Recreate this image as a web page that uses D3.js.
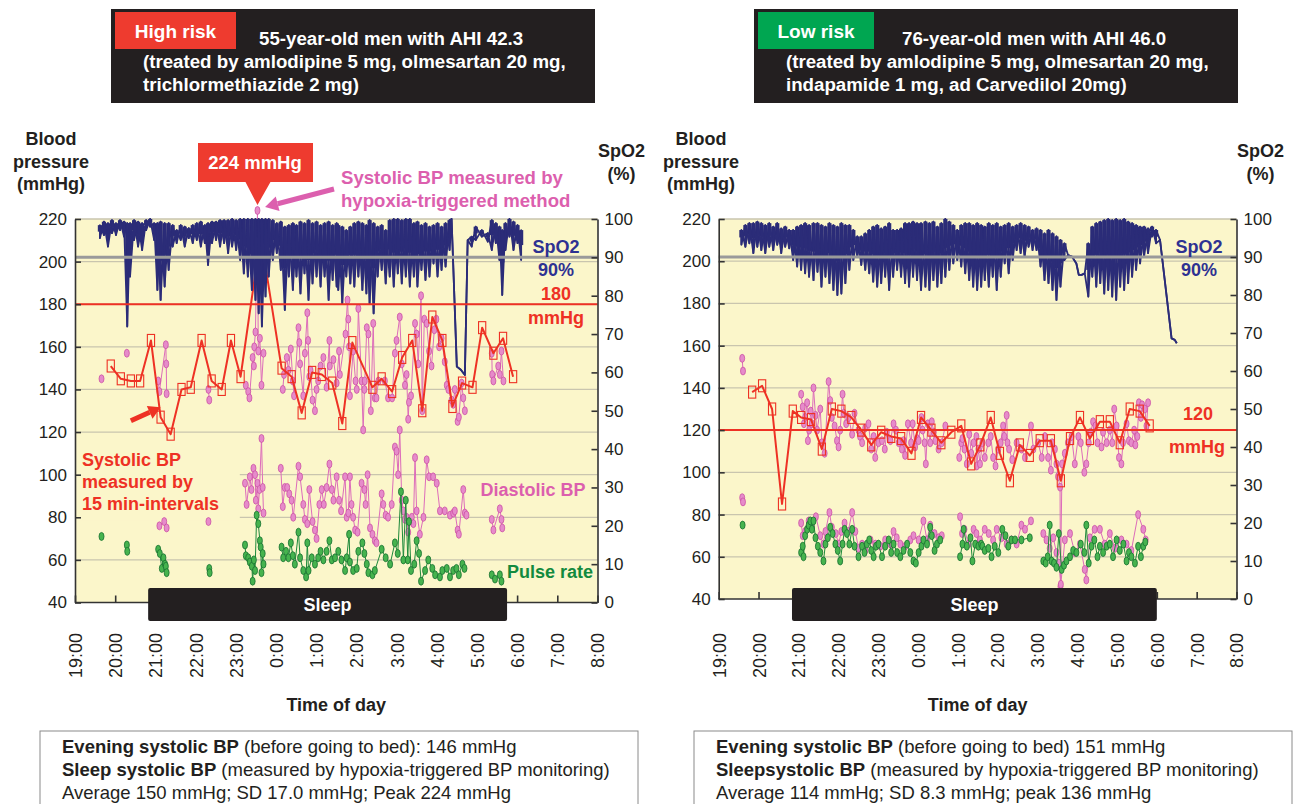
<!DOCTYPE html>
<html><head><meta charset="utf-8">
<script src="https://cdn.jsdelivr.net/npm/d3@7"></script>
<style>body{margin:0;background:#fff}svg{display:block}text{font-family:"Liberation Sans",Arial,Helvetica,sans-serif}</style>
</head><body><svg id="c" width="1297" height="804"></svg>
<script>
// ---------- shared axis data (time = hours after 19:00) ----------
const hourLabels = ["19:00","20:00","21:00","22:00","23:00","0:00","1:00","2:00","3:00","4:00","5:00","6:00","7:00","8:00"];
const bpTicks = [40,60,80,100,120,140,160,180,200,220];
const spo2Ticks = [0,10,20,30,40,50,60,70,80,90,100];

// ---------- LEFT (high risk) ----------
const L_sleep = [1.82, 10.75];
const L_threshold = 180;
const L_sys15 = [[0.89,151],[1.14,145],[1.39,144],[1.62,144],[1.89,163],[2.13,127],[2.38,119],[2.65,140],[2.88,141],[3.15,163],[3.40,144],[3.65,140],[3.88,163],[4.12,146],[4.62,212],[5.14,150],[5.39,146],[5.64,129],[5.90,148],[6.14,147],[6.40,143],[6.65,124],[6.90,162],[7.40,141],[7.63,145],[7.89,139],[8.14,155],[8.39,163],[8.64,130],[8.89,174],[9.14,163],[9.39,132],[9.63,143],[9.89,141],[10.13,169],[10.41,157],[10.65,164],[10.90,146]];
const L_hsys = [[0.66,145],[1.29,157],
[2.07,144],[2.10,139],[2.26,161],[2.27,152],[2.28,138],[3.32,140],[3.34,135],
[4.25,142],[4.31,139],[4.34,136],[4.42,155],[4.45,151],[4.46,160],[4.49,167],[4.54,224],[4.56,158],[4.60,164],[4.64,142],[4.69,157],
[5.17,140],[5.20,147],[5.27,155],[5.31,149],[5.37,159],[5.42,144],[5.45,137],[5.56,169],[5.58,162],[5.60,152],[5.68,137],[5.72,157],[5.78,176],[5.80,163],[5.83,146],[5.86,149],[5.91,135],[5.97,130],[6.01,140],[6.05,144],[6.11,151],[6.18,155],[6.26,141],[6.33,163],[6.34,151],[6.43,154],[6.51,143],
[6.57,158],[6.59,147],[6.73,166],[6.78,182],[6.80,173],[6.82,160],[6.84,137],[6.92,158],[6.98,144],[7.01,140],[7.05,178],[7.13,144],[7.17,121],[7.20,140],[7.21,144],[7.26,169],[7.30,166],[7.36,130],[7.42,171],[7.46,136],[7.50,136],[7.55,144],[7.71,144],[7.79,136],[7.89,136],[7.96,157],[8.00,163],[8.08,174],[8.13,152],[8.21,142],[8.25,147],[8.29,126],[8.31,134],[8.36,137],[8.46,171],[8.50,166],[8.54,152],[8.61,184],[8.64,130],[8.69,173],[8.75,171],[8.81,158],[8.87,151],[8.94,168],[8.99,173],[9.06,160],[9.12,164],[9.20,153],[9.25,142],[9.29,140],[9.37,135],[9.41,133],[9.45,140],[9.52,125],[9.55,127],[9.62,143],[9.66,136],[9.70,130],
[10.37,157],[10.38,147],[10.41,144],[10.53,151],[10.57,147],[10.61,158],[10.66,144]];
const L_dia = [[2.10,76],[2.22,78],[2.28,75],[3.32,78],
[4.23,96],[4.27,86],[4.35,99],[4.39,93],[4.44,103],[4.48,100],[4.50,88],[4.54,96],[4.56,84],[4.59,93],[4.64,117],[4.67,94],[4.69,82],
[5.12,103],[5.17,85],[5.22,94],[5.28,94],[5.33,91],[5.39,88],[5.43,80],[5.56,104],[5.60,99],[5.68,86],[5.72,79],[5.78,77],[5.83,93],[5.91,78],[5.97,74],[6.01,70],[6.08,86],[6.14,93],[6.19,86],[6.26,94],[6.33,105],[6.39,93],[6.43,88],[6.51,99],
[6.57,88],[6.62,83],[6.72,99],[6.76,80],[6.80,82],[6.84,99],[6.88,86],[6.92,80],[6.97,74],[7.03,73],[7.13,96],[7.20,93],[7.23,86],[7.28,100],[7.34,75],[7.40,72],[7.46,69],[7.50,68],[7.63,91],[7.67,86],[7.73,81],[7.79,80],[7.88,86],[7.96,113],[8.00,111],[8.04,100],[8.08,121],[8.13,88],[8.17,83],[8.21,79],[8.25,80],[8.29,73],[8.38,80],[8.42,77],[8.46,108],[8.50,83],[8.58,72],[8.67,80],[8.75,107],[8.81,99],[8.91,99],[9.00,96],[9.08,83],[9.20,83],[9.33,81],[9.41,82],[9.45,83],[9.52,74],[9.55,72],[9.66,93],[9.70,82],[9.74,81],
[10.37,79],[10.41,74],[10.57,84],[10.61,79],[10.63,75]];
const L_pulse = [[0.66,71],[1.29,67],[1.30,64],
[2.07,65],[2.11,63],[2.16,56],[2.20,61],[2.24,58],[2.26,57],[2.28,54],[3.34,56],[3.35,54],
[4.23,67],[4.25,62],[4.31,61],[4.35,59],[4.40,57],[4.42,50],[4.45,60],[4.48,55],[4.52,81],[4.56,77],[4.60,69],[4.62,66],[4.64,54],[4.67,63],[4.69,58],
[5.14,66],[5.18,61],[5.25,64],[5.31,61],[5.37,68],[5.42,62],[5.47,58],[5.56,73],[5.60,61],[5.68,55],[5.75,52],[5.78,68],[5.81,55],[5.89,61],[5.97,58],[6.05,61],[6.11,64],[6.18,60],[6.26,64],[6.33,69],[6.39,60],[6.47,61],[6.55,64],
[6.63,60],[6.72,55],[6.76,61],[6.82,72],[6.84,59],[6.92,55],[7.01,56],[7.05,64],[7.15,68],[7.20,63],[7.26,58],[7.30,54],[7.40,53],[7.46,55],[7.63,65],[7.73,61],[7.84,58],[7.96,68],[8.03,63],[8.11,92],[8.17,60],[8.23,88],[8.28,60],[8.31,78],[8.36,55],[8.44,58],[8.50,69],[8.56,63],[8.61,50],[8.71,55],[8.79,60],[8.89,56],[8.96,53],[9.08,52],[9.14,55],[9.25,56],[9.33,52],[9.41,55],[9.49,56],[9.55,53],[9.64,58],[9.69,56],
[10.37,53],[10.45,51],[10.57,53],[10.61,50]];
// SpO2 read as [time, upper, lower] of the trace
const L_spo2 = [[0.62,98.4,95.0],[0.72,99.3,95.8],[0.82,98.9,92.8],[0.92,99.7,96.3],[1.02,98.9,95.8],[1.12,99.7,97.1],[1.22,99.3,95.4],[1.30,98.9,72.0],[1.37,98.9,85.0],[1.47,99.7,94.5],[1.57,99.3,92.8],[1.67,98.9,91.9],[1.77,99.7,97.1],[1.87,100,98.0],[1.97,98.9,94.5],[2.05,98.9,81.5],[2.13,99.3,78.9],[2.23,98.9,82.4],[2.33,98.9,86.7],[2.43,98.4,92.8],[2.53,97.1,93.7],[2.63,98.4,94.5],[2.73,98.0,92.8],[2.83,97.6,95.0],[2.93,98.4,93.7],[3.03,98.9,94.5],[3.13,99.3,92.8],[3.23,98.4,93.7],[3.31,98.9,88.0],[3.41,99.3,93.7],[3.51,99.3,94.5],[3.61,99.7,92.8],[3.71,99.7,93.7],[3.81,99.7,91.1],[3.91,100,92.8],[4.01,99.7,91.9],[4.11,100,89.3],[4.20,100,85.8],[4.30,100,85.0],[4.40,100,81.5],[4.49,100,78.9],[4.57,100,75.4],[4.65,100,72.0],[4.74,100,79.8],[4.82,100,85.0],[4.92,99.7,89.3],[5.02,98.9,91.1],[5.12,99.3,86.7],[5.22,98.0,76.3],[5.32,98.4,85.0],[5.42,98.9,81.5],[5.51,98.4,85.0],[5.61,99.3,80.6],[5.71,98.9,85.8],[5.81,99.7,78.9],[5.91,98.9,83.2],[6.01,99.3,85.0],[6.11,98.4,82.4],[6.21,98.9,85.0],[6.31,99.3,78.9],[6.41,98.4,84.1],[6.51,98.9,82.4],
[6.55,98.4,81.5],[6.65,98.0,78.0],[6.75,97.1,85.0],[6.85,98.0,83.2],[6.95,98.9,82.4],[7.05,99.3,85.0],[7.15,98.9,81.5],[7.25,98.4,80.6],[7.33,99.7,78.0],[7.43,98.9,75.4],[7.53,98.0,85.0],[7.63,98.4,86.7],[7.73,97.1,83.2],[7.83,99.7,85.0],[7.93,100,82.4],[8.03,100,85.8],[8.13,99.7,83.2],[8.23,100,85.0],[8.33,100,82.4],[8.43,98.9,85.0],[8.52,99.3,82.4],[8.62,98.4,86.7],[8.72,98.9,84.1],[8.82,98.0,85.0],[8.92,98.4,88.4],[9.02,98.9,85.0],[9.12,98.0,86.7],[9.22,98.9,87.6],[9.32,99.7,91.9],[9.37,100,100],[9.50,61.5,61.5],[9.60,60.7,60.7],[9.70,59.3,59.3],[9.77,94.5,94.5],[9.87,95.4,92.8],[9.97,98.0,94.5],[10.12,97.1,95.4],[10.27,96.3,94.1],[10.37,99.7,91.9],[10.47,98.9,93.7],[10.56,98.0,89.3],[10.63,97.1,80.2],[10.71,98.9,91.9],[10.81,100,95.4],[10.91,99.3,91.9],[11.01,98.4,93.7],[11.10,97.1,89.3]];

// ---------- RIGHT (low risk) ----------
const R_sleep = [1.84, 11.0];
const R_threshold = 120;
const R_sys15 = [[0.84,138],[1.09,141],[1.34,130],[1.59,85],[1.86,129],[2.07,126],[2.32,125],[2.59,111],[2.84,130],[3.08,129],[3.33,126],[3.58,120],[3.83,113],[4.08,119],[4.33,117],[4.58,116],[4.84,109],[5.08,126],[5.34,120],[5.59,114],[5.84,119],[6.09,122],[6.34,104],[6.57,113],[6.83,126],[7.06,109],[7.31,96],[7.56,113],[7.81,108],[8.06,115],[8.34,115],[8.59,96],[8.82,116],[9.07,126],[9.32,116],[9.57,124],[9.82,124],[10.07,114],[10.32,130],[10.57,129],[10.82,122]];
const R_hsys = [[0.59,154],[0.61,148],
[2.07,137],[2.11,131],[2.14,123],[2.17,126],[2.22,133],[2.24,115],[2.27,120],[2.31,129],[2.34,123],[2.38,140],[2.43,127],[2.47,120],[2.55,130],[2.59,114],[2.66,109],[2.76,143],[2.80,134],[2.84,126],[2.91,122],[2.97,115],[3.01,112],[3.05,120],[3.11,137],[3.14,128],[3.20,123],[3.26,126],[3.35,118],[3.41,128],[3.51,120],
[3.55,117],[3.60,114],[3.68,121],[3.76,123],[3.83,111],[3.89,117],[3.93,107],[4.01,114],[4.10,115],[4.17,111],[4.22,119],[4.31,115],[4.39,123],[4.45,120],[4.52,114],[4.60,111],[4.64,115],[4.68,108],[4.75,123],[4.83,114],[4.87,123],[4.93,112],[4.98,116],[5.02,115],[5.09,126],[5.12,120],[5.17,114],[5.20,104],[5.25,123],[5.31,114],[5.35,124],[5.40,119],[5.44,115],[5.52,111],[5.60,114],[5.69,122],
[6.04,107],[6.09,114],[6.12,116],[6.17,111],[6.23,104],[6.29,118],[6.34,109],[6.40,114],[6.47,117],[6.48,103],[6.52,111],[6.56,104],[6.62,114],[6.68,107],[6.77,114],[6.83,117],[6.89,107],[6.95,103],[7.02,111],[7.08,114],[7.14,122],[7.17,117],[7.23,127],[7.25,114],[7.29,111],[7.37,106],[7.48,114],[7.60,111],[7.69,107],
[7.84,122],[7.90,111],[8.02,114],[8.11,107],[8.19,117],[8.27,107],[8.34,101],[8.37,114],[8.44,111],[8.48,104],[8.52,98],[8.57,93],[8.58,46],[8.62,104],[8.69,109],[8.77,114],[8.86,117],[8.94,104],[9.03,117],[9.09,114],[9.18,100],[9.23,104],[9.29,114],[9.34,119],[9.40,124],[9.46,122],[9.51,114],[9.61,112],[9.65,119],[9.74,114],[9.82,120],[9.88,114],[9.93,130],[9.99,122],[10.05,107],[10.11,104],[10.15,114],[10.24,123],[10.30,115],[10.36,114],[10.43,120],[10.46,113],[10.51,117],[10.55,133],[10.60,126],[10.63,132],[10.70,130],[10.74,122],[10.78,133]];
const R_dia = [[0.59,88],[0.61,86],
[2.07,76],[2.11,70],[2.17,72],[2.26,77],[2.34,74],[2.44,79],[2.55,70],[2.63,66],[2.68,72],[2.78,81],[2.84,74],[2.94,71],[3.01,66],[3.08,72],[3.16,76],[3.25,72],[3.35,81],[3.43,72],[3.51,64],[3.60,66],[3.68,63],[3.81,68],[3.93,66],[4.06,65],[4.18,68],[4.31,66],[4.39,72],[4.47,69],[4.56,66],[4.68,65],[4.81,68],[4.89,70],[5.02,68],[5.14,77],[5.23,68],[5.31,75],[5.42,71],[5.52,69],[5.60,70],
[6.06,79],[6.11,71],[6.17,73],[6.27,66],[6.40,73],[6.47,71],[6.52,66],[6.56,68],[6.68,73],[6.78,71],[6.89,68],[6.98,73],[7.10,69],[7.23,66],[7.35,68],[7.48,66],[7.60,75],[7.69,73],[7.84,77],
[8.15,71],[8.23,68],[8.31,64],[8.40,69],[8.48,62],[8.54,57],[8.59,47],[8.69,68],[8.82,71],[8.94,62],[9.07,66],[9.19,54],[9.23,49],[9.32,69],[9.44,73],[9.57,73],[9.69,66],[9.82,71],[9.95,64],[10.11,68],[10.24,66],[10.36,63],[10.53,80],[10.66,73],[10.72,68]];
const R_pulse = [[0.60,75],
[2.07,62],[2.11,65],[2.13,60],[2.17,70],[2.22,73],[2.26,75],[2.30,77],[2.34,73],[2.38,77],[2.43,69],[2.49,65],[2.55,62],[2.63,58],[2.68,66],[2.74,69],[2.80,74],[2.86,71],[2.93,66],[2.99,63],[3.05,58],[3.11,66],[3.16,73],[3.22,71],[3.28,66],[3.35,73],[3.41,65],
[3.51,60],[3.60,65],[3.66,62],[3.72,66],[3.78,68],[3.83,63],[3.89,60],[3.95,65],[4.01,66],[4.10,60],[4.18,65],[4.27,68],[4.33,62],[4.39,66],[4.48,62],[4.56,60],[4.64,63],[4.73,66],[4.81,62],[4.89,58],[4.95,57],[5.02,62],[5.09,65],[5.14,68],[5.23,66],[5.31,74],[5.35,70],[5.42,63],[5.48,66],[5.56,68],
[6.06,60],[6.12,66],[6.15,73],[6.23,65],[6.32,69],[6.37,58],[6.44,66],[6.52,65],[6.59,66],[6.62,65],[6.68,63],[6.77,64],[6.85,60],[6.93,65],[7.02,62],[7.12,73],[7.20,70],[7.27,65],[7.35,68],[7.44,68],[7.60,68],[7.81,69],
[8.15,58],[8.21,57],[8.26,60],[8.31,75],[8.36,58],[8.42,57],[8.48,55],[8.54,71],[8.61,54],[8.67,56],[8.73,58],[8.82,60],[8.90,63],[8.98,62],[9.09,66],[9.18,62],[9.23,75],[9.29,57],[9.36,65],[9.43,68],[9.51,60],[9.57,65],[9.65,62],[9.74,65],[9.82,66],[9.90,60],[9.99,68],[10.07,63],[10.16,66],[10.24,58],[10.30,62],[10.36,60],[10.45,57],[10.53,65],[10.60,60],[10.66,65],[10.71,67]];
const R_spo2 = [[0.57,97.1,93.2],[0.67,98.4,92.7],[0.77,98.9,93.6],[0.87,98.9,91.0],[0.97,99.3,92.7],[1.07,98.9,91.8],[1.17,98.4,91.0],[1.27,98.9,92.7],[1.37,98.0,91.8],[1.47,98.9,93.2],[1.57,97.5,91.0],[1.67,98.0,92.7],[1.77,97.1,92.3],[1.87,97.1,89.2],[1.97,98.0,87.5],[2.07,98.4,86.6],[2.17,98.9,85.7],[2.27,98.4,84.8],[2.38,98.9,83.9],[2.48,98.9,86.1],[2.58,98.4,82.2],[2.68,98.0,84.8],[2.78,98.9,83.1],[2.88,98.4,81.3],[2.98,98.0,80.0],[3.08,98.9,80.4],[3.18,98.4,83.1],[3.28,98.4,86.6],[3.38,97.1,89.2],[3.48,95.4,90.1],[3.58,95.4,87.9],[3.68,96.2,86.6],[3.78,97.1,85.7],[3.88,98.0,83.5],[3.98,98.4,82.2],[4.08,97.5,83.1],[4.18,98.0,84.8],[4.28,98.9,81.3],[4.38,97.1,84.8],[4.48,97.1,86.6],[4.58,97.5,84.8],[4.68,98.9,83.1],[4.78,98.9,82.2],[4.88,99.3,84.8],[4.98,98.9,83.9],[5.08,98.9,81.3],[5.19,99.3,82.2],[5.29,98.9,81.3],[5.39,99.3,83.9],[5.49,98.0,82.2],[5.59,98.9,83.1],[5.69,100,84.8],[5.79,99.3,86.6],[5.89,98.4,88.3],[5.99,97.1,89.2],[6.09,98.4,87.5],[6.19,98.9,85.7],[6.29,98.9,83.9],[6.39,98.4,82.2],[6.49,98.9,81.3],[6.59,98.4,82.2],
[6.68,98.0,83.9],[6.78,98.9,82.2],[6.88,98.4,84.8],[6.98,98.9,81.3],[7.08,98.0,84.8],[7.18,98.4,88.3],[7.28,98.9,85.7],[7.38,98.0,89.2],[7.48,98.4,91.8],[7.58,98.9,91.0],[7.68,98.4,90.1],[7.78,98.0,92.7],[7.88,97.1,91.8],[7.98,97.5,91.8],[8.08,97.1,87.5],[8.18,96.2,83.9],[8.28,97.1,83.1],[8.38,96.2,81.3],[8.48,95.4,78.7],[8.58,94.5,82.2],[8.68,93.6,89.2],[8.77,90.5,90.5],[8.87,90.1,90.1],[8.98,88.3,88.3],[9.04,85.3,85.3],[9.11,85.3,85.3],[9.19,85.7,85.7],[9.28,93.6,79.6],[9.38,98.0,84.8],[9.48,98.9,82.2],[9.58,99.3,83.1],[9.68,99.7,80.4],[9.78,100,81.3],[9.88,99.7,79.6],[9.98,100,78.7],[10.08,99.7,82.2],[10.18,100,81.3],[10.28,99.3,83.1],[10.38,98.9,84.8],[10.48,98.4,86.6],[10.58,98.0,88.3],[10.68,98.0,90.1],[10.78,97.5,91.0],[10.88,98.0,95.4],[10.98,97.1,93.6],[11.08,94.5,94.5],[11.37,68.6,68.6],[11.45,68.2,68.2],[11.50,67.3,67.3]];

// ---------- text ----------
const L_header = ["55-year-old men with AHI 42.3","(treated by amlodipine 5 mg, olmesartan 20 mg,","trichlormethiazide 2 mg)"];
const R_header = ["76-year-old men with AHI 46.0","(treated by amlodipine 5 mg, olmesartan 20 mg,","indapamide 1 mg, ad Carvedilol 20mg)"];
const L_notes = [[["Evening systolic BP",true],[" (before going to bed): 146 mmHg",false]],[["Sleep systolic BP",true],[" (measured by hypoxia-triggered BP monitoring)",false]],[["Average 150 mmHg; SD 17.0 mmHg; Peak 224 mmHg",false]]];
const R_notes = [[["Evening systolic BP",true],[" (before going to bed) 151 mmHg",false]],[["Sleepsystolic BP",true],[" (measured by hypoxia-triggered BP monitoring)",false]],[["Average 114 mmHg; SD 8.3 mmHg; peak 136 mmHg",false]]];

const C = {bg:"#fbf6ca", grid:"#c9c5ae", navy:"#2b2c78", red:"#ee3124", pinkF:"#e68bca", pinkS:"#c9489f", pinkL:"#dd6cba",
  greenF:"#46b34e", greenS:"#177030", greenL:"#1d8a3a", gray:"#9a9a9a", axis:"#333", ink:"#231f20", pinkT:"#dc5fae", navyT:"#2e3192", greenT:"#138a3e"};

const svg = d3.select("#c");

function runs(arr, gap){
  const out=[]; let cur=[];
  arr.slice().sort((a,b)=>a[0]-b[0]).forEach(p=>{
    if(cur.length && p[0]-cur[cur.length-1][0]>gap){out.push(cur);cur=[];}
    cur.push(p);
  });
  if(cur.length) out.push(cur);
  return out;
}

function panel(cfg){
  const x = d3.scaleLinear().domain([0,13]).range([cfg.x0,cfg.x1]);
  const y = d3.scaleLinear().domain([40,220]).range([cfg.y1,cfg.y0]);
  const ys = d3.scaleLinear().domain([0,100]).range([cfg.y1,cfg.y0]);
  const g = svg.append("g");
  g.append("rect").attr("x",cfg.x0).attr("y",cfg.y0).attr("width",cfg.x1-cfg.x0).attr("height",cfg.y1-cfg.y0).attr("fill",C.bg);
  g.selectAll("line.grid").data(bpTicks.filter(v=>v>40)).join("line").attr("class","grid")
    .attr("x1",cfg.x0).attr("x2",cfg.x1).attr("y1",d=>y(d)).attr("y2",d=>y(d))
    .attr("stroke",C.grid).attr("stroke-width",1.3);
  if(cfg.mask){
    g.append("rect").attr("x",x(0)).attr("y",y(cfg.mask[3])).attr("width",x(cfg.mask[1])-x(0))
      .attr("height",y(cfg.mask[2])-y(cfg.mask[3])).attr("fill",C.bg);
  }
  const ln = d3.line().x(d=>x(d[0])).y(d=>y(d[1]));
  // pink (hypoxia-triggered systolic & diastolic)
  [cfg.hsys, cfg.dia].forEach(series=>{
    runs(series,0.3).forEach(r=>{
      g.append("path").attr("d",ln(r)).attr("fill","none").attr("stroke",C.pinkL).attr("stroke-width",1);
    });
    g.selectAll(null).data(series).join("ellipse").attr("cx",d=>x(d[0])).attr("cy",d=>y(d[1]))
      .attr("rx",2.5).attr("ry",4).attr("fill",C.pinkF).attr("stroke",C.pinkS).attr("stroke-width",0.7);
  });
  // pulse rate
  runs(cfg.pulse,0.3).forEach(r=>{
    g.append("path").attr("d",ln(r)).attr("fill","none").attr("stroke",C.greenL).attr("stroke-width",1);
  });
  g.selectAll(null).data(cfg.pulse).join("ellipse").attr("cx",d=>x(d[0])).attr("cy",d=>y(d[1]))
    .attr("rx",2.5).attr("ry",4).attr("fill",C.greenF).attr("stroke",C.greenS).attr("stroke-width",0.8);
  // 15-min systolic
  g.append("path").attr("d",ln(cfg.sys15)).attr("fill","none").attr("stroke",C.red).attr("stroke-width",2).attr("stroke-linejoin","round");
  g.selectAll(null).data(cfg.sys15).join("rect").attr("x",d=>x(d[0])-3.6).attr("y",d=>y(d[1])-6)
    .attr("width",7.2).attr("height",12).attr("fill","none").attr("stroke",C.red).attr("stroke-width",1.1);
  // SpO2 trace: strokes over each reading's range, joined by interleaved zig-zags
  const sl = d3.line().x(d=>x(d[0])).y(d=>ys(d[1]));
  const zA=[], zB=[];
  cfg.spo2.forEach(([t,hi,lo])=>{
    zA.push([t,hi]); if(lo!==hi) zA.push([t,lo]);
    if(lo!==hi) zB.push([t,lo]); zB.push([t,hi]);
  });
  g.selectAll(null).data(cfg.spo2.filter(d=>d[1]!==d[2])).join("line")
    .attr("x1",d=>x(d[0])).attr("x2",d=>x(d[0])).attr("y1",d=>ys(d[1])).attr("y2",d=>ys(d[1]-(d[1]-d[2])*0.5))
    .attr("stroke",C.navy).attr("stroke-width",4.2);
  [zA,zB].forEach(z=>g.append("path").attr("d",sl(z)).attr("fill","none").attr("stroke",C.navy).attr("stroke-width",1.8).attr("stroke-linejoin","round"));
  // 90% line, threshold
  g.append("line").attr("x1",cfg.x0).attr("x2",cfg.x1).attr("y1",ys(90)).attr("y2",ys(90)).attr("stroke",C.gray).attr("stroke-width",3);
  g.append("line").attr("x1",cfg.x0).attr("x2",cfg.x1).attr("y1",y(cfg.threshold)).attr("y2",y(cfg.threshold)).attr("stroke",C.red).attr("stroke-width",2);
  // axes
  const ax = (sel)=>{sel.selectAll("path,line").attr("stroke",C.axis).attr("stroke-width",1.6);
    sel.selectAll("text").attr("fill",C.ink).style("font-size","17px").style("font-family","'Liberation Sans',Arial,sans-serif");};
  g.append("g").attr("transform",`translate(${cfg.x0},0)`)
    .call(d3.axisLeft(y).tickValues(bpTicks).tickSizeInner(-6).tickSizeOuter(0).tickPadding(8)).call(ax);
  g.append("g").attr("transform",`translate(${cfg.x1},0)`)
    .call(d3.axisRight(ys).tickValues(spo2Ticks).tickSizeInner(-6).tickSizeOuter(0).tickPadding(7)).call(ax);
  const bx = g.append("g").attr("transform",`translate(0,${cfg.y1})`)
    .call(d3.axisBottom(x).tickValues(d3.range(14)).tickFormat(i=>hourLabels[i]).tickSizeInner(-7).tickSizeOuter(0)).call(ax);
  bx.selectAll("text").attr("transform","rotate(-90)").attr("text-anchor","end")
    .attr("x",-(633-cfg.y1)).attr("y",0).attr("dy","0.36em").style("font-size","18px");
  bx.selectAll(".domain").attr("d",`M${cfg.x0},0H${cfg.x1}`);
  // sleep bar
  g.append("rect").attr("x",x(cfg.sleep[0])).attr("y",588).attr("width",x(cfg.sleep[1])-x(cfg.sleep[0])).attr("height",33)
    .attr("rx",2).attr("fill",C.ink);
  g.append("text").attr("x",(x(cfg.sleep[0])+x(cfg.sleep[1]))/2).attr("y",611).attr("text-anchor","middle")
    .attr("fill","#fff").style("font-weight","bold").style("font-size","18px").text("Sleep");
  // axis titles
  const bt = (tx,ty,t,col,size,anchor)=>g.append("text").attr("x",tx).attr("y",ty).attr("text-anchor",anchor||"middle")
    .attr("fill",col||C.ink).style("font-weight","bold").style("font-size",(size||18)+"px").text(t);
  ["Blood","pressure","(mmHg)"].forEach((t,i)=>bt(cfg.ytx,145+i*22.5,t));
  ["SpO2","(%)"].forEach((t,i)=>bt(cfg.x1+24,157+i*23,t));
  bt((cfg.x0+cfg.x1)/2,711,"Time of day");
  // header
  g.append("rect").attr("x",cfg.hx).attr("y",9).attr("width",484).attr("height",94).attr("fill",C.ink);
  g.append("rect").attr("x",cfg.hx+4).attr("y",12).attr("width",cfg.badgeW).attr("height",37).attr("fill",cfg.badgeC);
  g.append("text").attr("x",cfg.hx+4+cfg.badgeW/2).attr("y",38).attr("text-anchor","middle").attr("fill","#fff")
    .style("font-weight","bold").style("font-size","19px").text(cfg.badge);
  cfg.header.forEach((t,i)=>g.append("text").attr("x",i===0?cfg.h1x:cfg.hx+32).attr("y",45+i*23).attr("fill","#fff")
    .style("font-weight","bold").style("font-size","18.7px").text(t));
  // notes box
  g.append("rect").attr("x",cfg.nx).attr("y",731).attr("width",598).attr("height",90).attr("fill","#fff").attr("stroke","#8a8a8a").attr("stroke-width",1);
  cfg.notes.forEach((parts,i)=>{
    const t = g.append("text").attr("x",cfg.nx+22).attr("y",753+i*23).attr("fill",C.ink).style("font-size","18.5px");
    parts.forEach(([s,b])=>t.append("tspan").style("font-weight",b?"bold":"normal").text(s));
  });
  // labels
  bt(cfg.lx,253,"SpO2",C.navyT);
  bt(cfg.lx,276,"90%",C.navyT);
  return {x,y,ys,g,bt};
}

const L = panel({x0:75,x1:597.5,y0:219,y1:602.5,sys15:L_sys15,hsys:L_hsys,dia:L_dia,pulse:L_pulse,spo2:L_spo2,
  threshold:L_threshold,sleep:L_sleep,mask:[0,4.1,78.3,116.3],ytx:51,hx:111,badge:"High risk",badgeW:121,badgeC:"#ee3b2f",
  header:L_header,h1x:259,notes:L_notes,nx:40,lx:556});
L.bt(556,300,"180",C.red); L.bt(556,324,"mmHg",C.red);
L.bt(533,496,"Diastolic BP",C.pinkT); L.bt(550,578,"Pulse rate",C.greenT);
["Systolic BP","measured by","15 min-intervals"].forEach((t,i)=>L.bt(82,466+i*22,t,C.red,18,"start"));
// red arrow to 15-min reading
{
  const p0=[L.x(1.39),L.y(125.3)], p1=[L.x(2.13),L.y(131.6)];
  const dx=p1[0]-p0[0], dy=p1[1]-p0[1], len=Math.hypot(dx,dy), ux=dx/len, uy=dy/len, px=-uy, py=ux;
  const b=[p1[0]-12*ux,p1[1]-12*uy];
  L.g.append("line").attr("x1",p0[0]).attr("y1",p0[1]).attr("x2",b[0]).attr("y2",b[1]).attr("stroke",C.red).attr("stroke-width",5);
  L.g.append("path").attr("d",`M${p1[0]},${p1[1]}L${b[0]+7*px},${b[1]+7*py}L${b[0]-7*px},${b[1]-7*py}Z`).attr("fill",C.red);
}
// 224 mmHg callout
{
  const tipX=L.x(4.54);
  L.g.append("path").attr("d",`M198,143H313V182H${tipX+13}L${tipX},205L${tipX-12},182H198Z`).attr("fill","#ee3b2f");
  L.bt(255,169,"224 mmHg","#fff",18.5);
  ["Systolic BP measured by","hypoxia-triggered method"].forEach((t,i)=>L.bt(341,184+i*23,t,C.pinkT,18.6,"start"));
  const p0=[334,189], p1=[L.x(4.58)+6,207];
  const dx=p1[0]-p0[0], dy=p1[1]-p0[1], len=Math.hypot(dx,dy), ux=dx/len, uy=dy/len, px=-uy, py=ux;
  const b=[p1[0]-13*ux,p1[1]-13*uy];
  L.g.append("line").attr("x1",p0[0]).attr("y1",p0[1]).attr("x2",b[0]).attr("y2",b[1]).attr("stroke",C.pinkT).attr("stroke-width",5);
  L.g.append("path").attr("d",`M${p1[0]},${p1[1]}L${b[0]+7.5*px},${b[1]+7.5*py}L${b[0]-7.5*px},${b[1]-7.5*py}Z`).attr("fill",C.pinkT);
}

const R = panel({x0:718.7,x1:1236.5,y0:219,y1:599,sys15:R_sys15,hsys:R_hsys,dia:R_dia,pulse:R_pulse,spo2:R_spo2,
  threshold:R_threshold,sleep:R_sleep,mask:null,ytx:701,hx:754,badge:"Low risk",badgeW:116,badgeC:"#00a651",
  header:R_header,h1x:902,notes:R_notes,nx:694,lx:1199});
R.bt(1198,420,"120",C.red); R.bt(1197,453,"mmHg",C.red);
</script></body></html>
